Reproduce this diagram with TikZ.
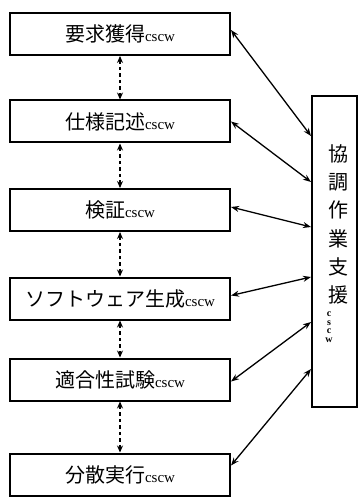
\documentclass[tikz,border=0pt]{standalone}
\usepackage{fontspec}
\usepackage{tikz}
\usetikzlibrary{arrows.meta}
\newfontfamily\jpfont{Noto Sans CJK JP}
\newfontfamily\tagfont{Liberation Serif}
\newcommand{\cscwtxt}{{\tagfont\fontsize{15}{15}\selectfont cscw}}

\begin{document}
\begin{tikzpicture}[x=1pt,y=1pt,yscale=-1,xscale=1,
		stepbox/.style={draw, line width=2pt, minimum width=220pt, minimum height=42pt, inner sep=0pt, font=\jpfont\fontsize{20}{24}\selectfont},
		flowlink/.style={line width=1.3pt, {Stealth[length=8pt,width=6pt]}-{Stealth[length=8pt,width=6pt]}},
		seqlink/.style={line width=1.1pt, dash pattern=on 3.5pt off 3pt, {Stealth[length=7pt,width=6pt]}-{Stealth[length=7pt,width=6pt]}}]
		\useasboundingbox (0,0) rectangle (359,497);
		
		%Shape: Rectangle [steps]
		\node [stepbox] (req) at (120,34) {要求獲得\cscwtxt};
		\node [stepbox] (spec) at (120,121.5) {仕様記述\cscwtxt};
		\node [stepbox] (verif) at (120,210) {検証\cscwtxt};
		\node [stepbox] (gen) at (120,298.5) {ソフトウェア生成\cscwtxt};
		\node [stepbox] (conf) at (120,379.5) {適合性試験\cscwtxt};
		\node [stepbox] (exec) at (120,474.5) {分散実行\cscwtxt};
		%Shape: Rectangle [support]
		\node [draw, line width=2pt, minimum width=45pt, minimum height=311pt, inner sep=0pt] (sup) at (334.5,251.5) {};
		
		% Text Node
		\node [align=center, inner sep=0pt, font=\jpfont\fontsize{20}{28.2}\selectfont] (suptxt) at (338,224.5) {協\\調\\作\\業\\支\\援};
		% Text Node
		\node [align=center, inner sep=0pt, font=\tagfont\bfseries\fontsize{10}{8.5}\selectfont] (supcscw) at (329,327) {c\\s\\c\\w};
		
		%Dashed arrows between steps
		\draw [seqlink] (req.south) -- (spec.north);
		\draw [seqlink] (spec.south) -- (verif.north);
		\draw [seqlink] (verif.south) -- (gen.north);
		\draw [seqlink] (gen.south) -- (conf.north);
		\draw [seqlink] (conf.south) -- (exec.north);
		
		%Arrows to support
		\draw [flowlink] ([yshift=-4pt]req.east) -- ([yshift=41pt]sup.north west);
		\draw [flowlink] (spec.east) -- ([yshift=87pt]sup.north west);
		\draw [flowlink] ([yshift=-3pt]verif.east) -- ([yshift=132pt]sup.north west);
		\draw [flowlink] ([yshift=-3pt]gen.east) -- ([yshift=182pt]sup.north west);
		\draw [flowlink] ([yshift=2pt]conf.east) -- ([yshift=227pt]sup.north west);
		\draw [flowlink] ([yshift=-9pt]exec.east) -- ([yshift=274pt]sup.north west);
\end{tikzpicture}
\end{document}
